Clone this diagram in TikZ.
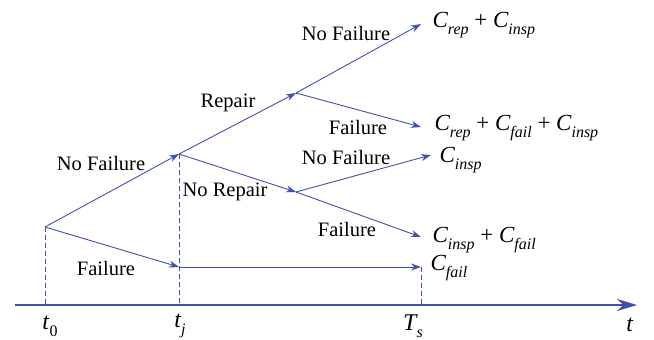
\documentclass[tikz,border=0pt]{standalone}
\usepackage{fontspec}
\setmainfont{Liberation Serif}
\usetikzlibrary{arrows.meta}
\definecolor{treeblue}{RGB}{62,82,172}
\newcommand{\sub}[1]{\raisebox{-0.3em}{\fontsize{16}{16}\selectfont #1}}
\newcommand{\cst}[1]{\textit{C\sub{#1}}}
\begin{document}
\begin{tikzpicture}[x=1pt, y=-1pt,
    branch/.style={draw=treeblue, line width=0.9pt, -{Stealth[length=10pt,width=7pt]}},
    guide/.style={draw=treeblue, line width=0.9pt, dash pattern=on 5pt off 3pt},
    lab/.style={font=\fontsize{20.5}{24}\selectfont},
    cost/.style={font=\fontsize{23}{26}\selectfont, anchor=west},
    tmark/.style={font=\fontsize{24}{26}\selectfont}]
  \useasboundingbox (0,0) rectangle (654,340);

  % branch points
  \coordinate (s0) at (45,227);
  \coordinate (nf) at (179,154);
  \coordinate (fl) at (179,267);
  \coordinate (rp) at (296,93);
  \coordinate (nr) at (296,192);

  % end points
  \coordinate (e1) at (421,24);
  \coordinate (e2) at (421,127);
  \coordinate (e3) at (431,155);
  \coordinate (e4) at (421,237);
  \coordinate (e5) at (421,267);

  % dashed guides
  \coordinate (ax0) at (15,305);
  \coordinate (ax1) at (637,305);
  \draw[guide] (s0) -- (s0 |- ax0);
  \draw[guide] (nf) -- (nf |- ax0);
  \draw[guide] (e5) -- (e5 |- ax0);

  % time axis
  \draw[draw=treeblue, line width=2.4pt, -{Stealth[length=20pt,width=12pt]}] (ax0) -- (ax1);

  % tree
  \draw[branch] (s0) -- (nf);
  \draw[branch] (s0) -- (fl);
  \draw[branch] (nf) -- (rp);
  \draw[branch] (nf) -- (nr);
  \draw[branch] (rp) -- (e1);
  \draw[branch] (rp) -- (e2);
  \draw[branch] (nr) -- (e3);
  \draw[branch] (nr) -- (e4);
  \draw[branch] (fl) -- (e5);

  % branch labels
  \node[lab] (l1) at (101,163) {No Failure};
  \node[lab] (l2) at (106,268) {Failure};
  \node[lab] (l3) at (228,103) {Repair};
  \node[lab] (l4) at (225,192) {No Repair};
  \node[lab] (l5) at (346,33) {No Failure};
  \node[lab] (l6) at (358,127) {Failure};
  \node[lab] (l7) at (346,157) {No Failure};
  \node[lab] (l8) at (347,229) {Failure};

  % costs
  \node[cost] (c1) at (429,25) {\cst{rep} + \cst{insp}};
  \node[cost] (c2) at (431,128) {\cst{rep} + \cst{fail} + \cst{insp}};
  \node[cost] (c3) at (436,160) {\cst{insp}};
  \node[cost] (c4) at (429,240) {\cst{insp} + \cst{fail}};
  \node[cost] (c5) at (427,268) {\cst{fail}};

  % ticks
  \node[tmark] (t0) at (50,326) {\textit{t}\sub{0}};
  \node[tmark] (tj) at (180,326) {\textit{t\sub{j}}};
  \node[tmark] (ts) at (413,326) {\textit{T\sub{s}}};
  \node[tmark] (tt) at (630,325) {\textit{t}};
\end{tikzpicture}
\end{document}
